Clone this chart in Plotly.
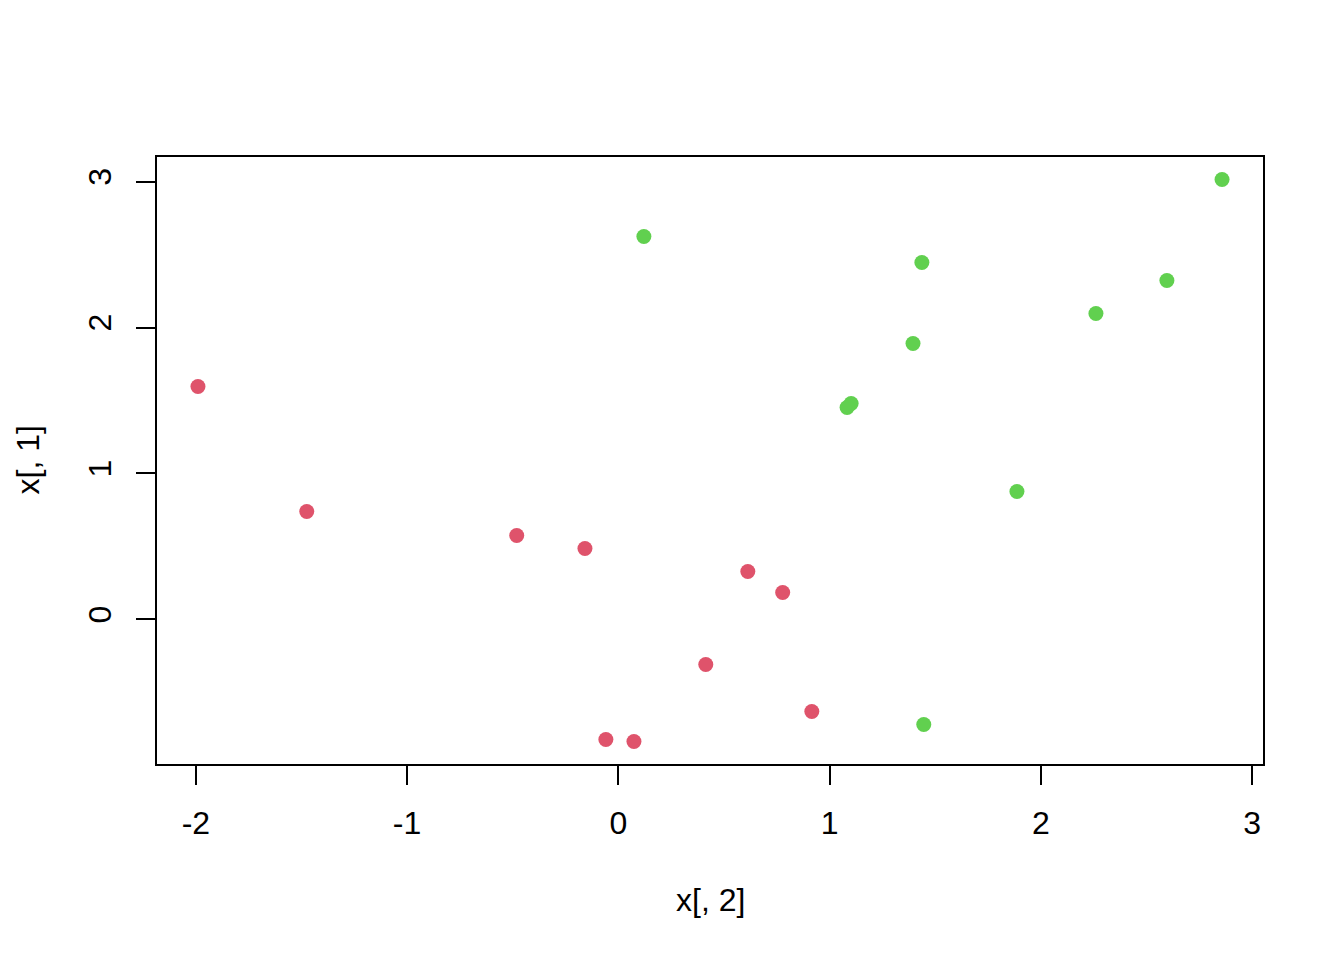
import plotly.graph_objects as go

# class 1 (red) points: x[,2], x[,1]
red_x2 = [-1.99, -1.475, -0.481, -0.158, 0.613, 0.778, 0.414, 0.916, -0.059, 0.074]
red_x1 = [1.596, 0.740, 0.575, 0.486, 0.329, 0.185, -0.308, -0.630, -0.822, -0.836]
# class 2 (green) points
green_x2 = [0.121, 1.437, 2.858, 2.261, 2.597, 1.395, 1.102, 1.083, 1.887, 1.446]
green_x1 = [2.623, 2.445, 3.014, 2.096, 2.322, 1.890, 1.479, 1.452, 0.877, -0.719]

x_ticks = [-2, -1, 0, 1, 2, 3]
y_ticks = [0, 1, 2, 3]

FONT = "Liberation Sans, Arial, sans-serif"

fig = go.Figure()
fig.add_trace(go.Scatter(x=red_x2, y=red_x1, mode="markers",
                         marker=dict(color="#DF536B", size=15, line=dict(width=0)),
                         showlegend=False))
fig.add_trace(go.Scatter(x=green_x2, y=green_x1, mode="markers",
                         marker=dict(color="#61D04F", size=15, line=dict(width=0)),
                         showlegend=False))

allx = red_x2 + green_x2
ally = red_x1 + green_x1
xr = [min(allx) - 0.04 * (max(allx) - min(allx)), max(allx) + 0.04 * (max(allx) - min(allx))]
yr = [min(ally) - 0.04 * (max(ally) - min(ally)), max(ally) + 0.04 * (max(ally) - min(ally))]

axis_common = dict(showgrid=False, zeroline=False, showline=True, mirror=True,
                   linecolor="black", linewidth=2, ticks="outside", ticklen=19,
                   tickwidth=2, tickcolor="black",
                   tickfont=dict(family=FONT, size=32, color="black"))

fig.update_xaxes(range=xr, tickvals=x_ticks, ticktext=[str(v) for v in x_ticks],
                 ticklabelstandoff=11, **axis_common)
fig.update_yaxes(range=yr, tickvals=y_ticks, ticktext=[str(v) for v in y_ticks],
                 tickangle=-90, ticklabelstandoff=12, **axis_common)

fig.add_annotation(text="x[, 2]", xref="paper", yref="paper", x=0.5, y=0,
                   yanchor="middle", yshift=-136, showarrow=False,
                   font=dict(family=FONT, size=32, color="black"))
fig.add_annotation(text="x[, 1]", xref="paper", yref="paper", x=0, y=0.5,
                   xanchor="center", xshift=-130, textangle=-90, showarrow=False,
                   font=dict(family=FONT, size=32, color="black"))

# page body has an 8px offset; shift margins so the plot box lands at 157..1263 x 157..764
fig.update_layout(width=1344, height=960,
                  margin=dict(l=149, r=89, t=149, b=204),
                  plot_bgcolor="white", paper_bgcolor="white",
                  font=dict(family=FONT, size=32, color="black"))

fig.write_html("out.html")
